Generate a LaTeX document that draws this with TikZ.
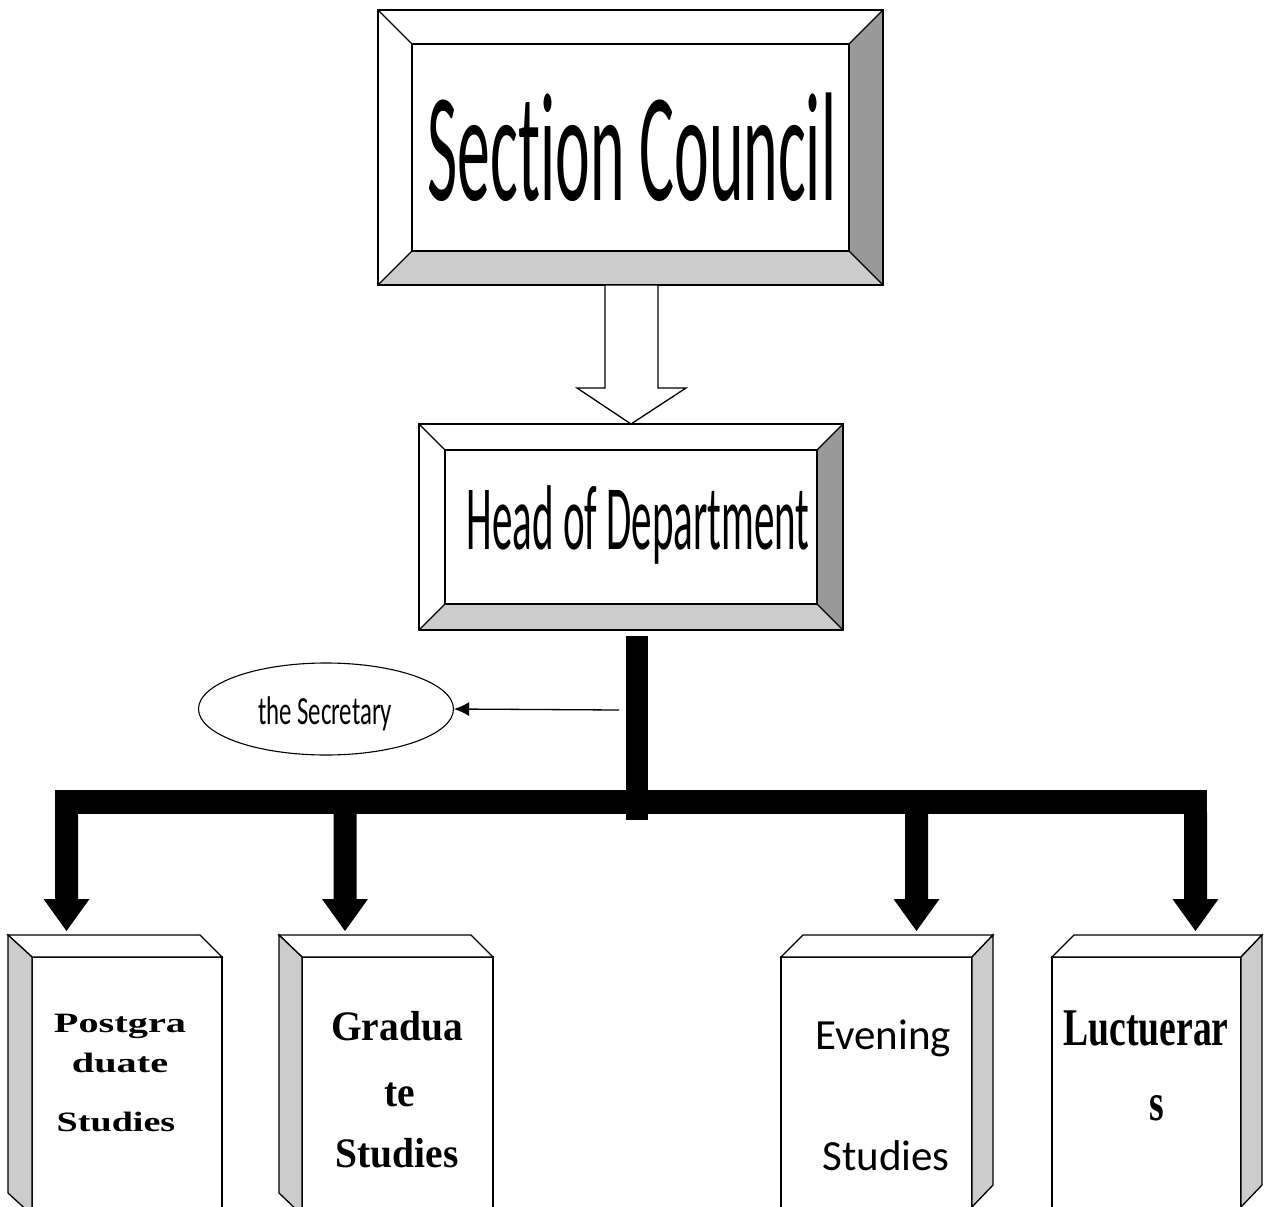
\documentclass[tikz,border=0pt]{standalone}
\usepackage{fontspec}
\usepackage{graphicx}
\usetikzlibrary{shapes.geometric,arrows.meta,calc}
\newfontfamily\calfont[Ligatures=NoCommon]{Carlito}
\newfontfamily\tmsfont{Liberation Serif}
\definecolor{facedark}{HTML}{999999}
\definecolor{facelight}{HTML}{CCCCCC}
\tikzset{
  outline/.style={draw=black,line width=1.3pt,line join=miter},
  txt/.style={anchor=base,inner sep=0pt,outer sep=0pt},
}
\newcommand\bevelbox[5]{%
  \fill[white] (#1,#2) rectangle (#3,#4);
  \fill[facedark] (#3,#2) -- (#3,#4) -- (#3-#5,#4-#5) -- (#3-#5,#2+#5) -- cycle;
  \fill[facelight] (#1,#4) -- (#3,#4) -- (#3-#5,#4-#5) -- (#1+#5,#4-#5) -- cycle;
  \draw[outline] (#1,#2) rectangle (#3,#4);
  \draw[outline] (#1+#5,#2+#5) rectangle (#3-#5,#4-#5);
  \draw[outline] (#1,#2) -- (#1+#5,#2+#5) (#3,#2) -- (#3-#5,#2+#5)
                 (#1,#4) -- (#1+#5,#4-#5) (#3,#4) -- (#3-#5,#4-#5);
}
\newcommand\leftsidebox[3]{%
  \fill[white] (#2,957) rectangle (#3,1240);
  \draw[outline] (#2,1240) -- (#2,957) -- (#3,957) -- (#3,1240);
  \draw[outline,fill=white] (#1,935) -- (#3-22,935) -- (#3,957) -- (#2,957) -- cycle;
  \draw[outline,fill=facelight] (#1,935) -- (#2,957) -- (#2,1215) -- (#1,1193) -- cycle;
}
\newcommand\rightsidebox[2]{%
  \fill[white] (#1,957) rectangle (#2,1240);
  \draw[outline] (#1,1240) -- (#1,957) -- (#2,957) -- (#2,1240);
  \draw[outline,fill=white] (#1,957) -- (#1+22,935) -- (#2+21,935) -- (#2,957) -- cycle;
  \draw[outline,fill=facelight] (#2,957) -- (#2+21,935) -- (#2+21,1185) -- (#2,1207) -- cycle;
}
\newcommand\downarr[1]{%
  \fill[black] (#1-11.5,812) -- (#1+11.5,812) -- (#1+11.5,899) -- (#1+23,899)
     -- (#1,931) -- (#1-23,899) -- (#1-11.5,899) -- cycle;
}
\begin{document}
\begin{tikzpicture}[x=1pt,y=-1pt]
\clip (0,0) rectangle (1264,1207);
\fill[white] (0,0) rectangle (1264,1207);

% top box
\bevelbox{378}{10}{883}{285}{34}
\node[txt] (council) at (632,200) {\scalebox{0.424}[1]{\fontsize{155}{155}\selectfont\calfont Section Council}};
\coordinate (councilS) at (631,285);

% head box
\bevelbox{419}{424}{843}{630}{26}
\node[txt] (head) at (638,549) {\scalebox{0.446}[1]{\fontsize{92}{92}\selectfont\calfont Head of Department}};
\coordinate (headN) at (631,424);

% hollow arrow
\draw[outline,fill=white] ($(councilS)+(-26,0)$) -- ($(councilS)+(27,0)$) -- (658,388) -- (686,388)
   -- (headN) -- (577,388) -- (605,388) -- cycle;

% thick trunk and bar
\coordinate (trunkTop) at (637,636);
\coordinate (trunkBot) at (637,820);
\draw[line width=22pt] (trunkTop) -- (trunkBot);
\fill[black] (55,790) rectangle (1207,814);
\downarr{66.5}
\downarr{345}
\downarr{916.5}
\downarr{1195.5}

% secretary
\node[ellipse,draw,line width=1.1pt,minimum width=255pt,minimum height=92pt,inner sep=0pt] (sec) at (326,709) {};
\node[txt] (sectext) at (325,724) {\scalebox{0.62}[1]{\fontsize{40}{40}\selectfont\calfont the Secretary}};
\coordinate (secfrom) at (619,710);
\draw[line width=1.3pt,-{Latex[length=15pt,width=14pt]}] (secfrom) -- (sec.east);

% bottom boxes
\leftsidebox{8}{32}{222}
\leftsidebox{279}{302}{493}
\rightsidebox{781}{972}
\rightsidebox{1052}{1241}

\node[txt] (pg1) at (120,1032) {\scalebox{1.44}[1]{\fontsize{28}{28}\selectfont\tmsfont\bfseries Postgra}};
\node[txt] (pg2) at (120,1072) {\scalebox{1.44}[1]{\fontsize{28}{28}\selectfont\tmsfont\bfseries duate}};
\node[txt] (pg3) at (116,1131) {\scalebox{1.36}[1]{\fontsize{28}{28}\selectfont\tmsfont\bfseries Studies}};

\node[txt] (gr1) at (397,1040) {\scalebox{0.94}[1]{\fontsize{42}{42}\selectfont\tmsfont\bfseries Gradua}};
\node[txt] (gr2) at (400,1106) {\scalebox{0.94}[1]{\fontsize{42}{42}\selectfont\tmsfont\bfseries te}};
\node[txt] (gr3) at (397,1167) {\scalebox{0.94}[1]{\fontsize{42}{42}\selectfont\tmsfont\bfseries Studies}};

\node[txt] (ev1) at (883,1049) {\fontsize{43}{43}\selectfont\calfont Evening};
\node[txt] (ev2) at (886,1170) {\fontsize{43}{43}\selectfont\calfont Studies};

\node[txt] (lc1) at (1146,1045) {\scalebox{0.71}[1]{\fontsize{53}{53}\selectfont\tmsfont\bfseries Luctuerar}};
\node[txt] (lc2) at (1157,1120) {\scalebox{0.71}[1]{\fontsize{53}{53}\selectfont\tmsfont\bfseries s}};
\end{tikzpicture}
\end{document}
